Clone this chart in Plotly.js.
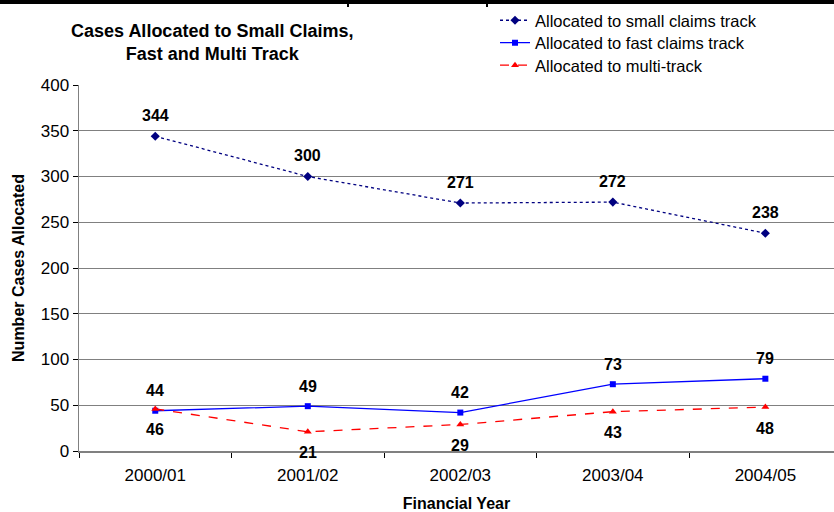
<!DOCTYPE html>
<html>
<head>
<meta charset="utf-8">
<script src="https://cdn.plot.ly/plotly-3.0.1.min.js"></script>
<style>
html,body{margin:0;padding:0;background:#fff;}
#wrap{position:relative;width:834px;height:512px;}
#chart{width:834px;height:512px;}
#topbar{position:absolute;left:0;top:0;width:834px;height:4px;background:#000;}
.nub{position:absolute;top:4px;width:2px;height:3px;background:#000;}
</style>
</head>
<body>
<div id="wrap">
<div id="chart"></div>
<div id="topbar"></div>
<div class="nub" style="left:347px"></div>
<div class="nub" style="left:486px"></div>
</div>
<script>
const categories = ["2000/01", "2001/02", "2002/03", "2003/04", "2004/05"];
const smallClaims = [344, 300, 271, 272, 238];
const fastTrack = [44, 49, 42, 73, 79];
const multiTrack = [46, 21, 29, 43, 48];
const seriesNames = ["Allocated to small claims track", "Allocated to fast claims track", "Allocated to multi-track"];
const yTicks = [0, 50, 100, 150, 200, 250, 300, 350, 400];

const FONT = "'Liberation Sans', Arial, sans-serif";

const traces = [
  {x: categories, y: smallClaims, name: seriesNames[0], type: "scatter", mode: "lines+markers", legend: "legend",
   line: {color: "#000080", width: 1.3, dash: "dot"}, marker: {symbol: "diamond", size: 7, color: "#000080"}},
  {x: categories, y: fastTrack, name: seriesNames[1], type: "scatter", mode: "lines+markers", legend: "legend2",
   line: {color: "#0000FF", width: 1.3}, marker: {symbol: "square", size: 6, color: "#0000FF"}},
  {x: categories, y: multiTrack, name: seriesNames[2], type: "scatter", mode: "lines+markers", legend: "legend3",
   line: {color: "#FF0000", width: 1.3, dash: "dash"}, marker: {symbol: "triangle-up", size: 7, color: "#FF0000"}}
];

const annotations = [];
function addLabels(vals, shift) {
  vals.forEach((v, i) => annotations.push({
    x: categories[i], y: v, xref: "x", yref: "y", text: String(v), showarrow: false,
    yshift: shift, font: {family: FONT, size: 16, color: "#000", weight: "bold"}
  }));
}
addLabels(smallClaims, 21);
addLabels(fastTrack, 20);
addLabels(multiTrack, -21);

annotations.push({
  text: "<b>Cases Allocated to Small Claims,<br>Fast and Multi Track</b>",
  xref: "paper", yref: "paper", x: 0.176, y: 1.116, xanchor: "center", yanchor: "middle",
  showarrow: false, align: "center", font: {family: FONT, size: 18, color: "#000"}
});

function legendAt(yPaper) {
  return {x: 0.551, xanchor: "left", y: yPaper, yanchor: "top", font: {family: FONT, size: 16.5, color: "#000"},
          bgcolor: "rgba(0,0,0,0)", itemwidth: 30, tracegroupgap: 0};
}

const layout = {
  width: 834, height: 512,
  margin: {l: 79, r: 0, t: 85, b: 61},
  paper_bgcolor: "#fff", plot_bgcolor: "#fff",
  font: {family: FONT, size: 16, color: "#000"},
  showlegend: true,
  legend: legendAt(1.224),
  legend2: legendAt(1.1626),
  legend3: legendAt(1.1011),
  xaxis: {type: "category", range: [-0.5, 4.45], showgrid: false, showline: true, linecolor: "#808080", linewidth: 1.5,
          ticks: "outside", tickson: "boundaries", ticklen: 5, tickcolor: "#000", ticklabelstandoff: 8,
          tickfont: {family: FONT, size: 17, color: "#000"}, zeroline: false,
          title: {text: "<b>Financial Year</b>", font: {family: FONT, size: 16, color: "#000"}, standoff: 18}},
  yaxis: {range: [0, 400], tickvals: yTicks, showgrid: true, gridcolor: "#808080", gridwidth: 1,
          showline: true, linecolor: "#808080", linewidth: 1.5, ticks: "outside", ticklen: 5, tickcolor: "#000",
          tickfont: {family: FONT, size: 17, color: "#000"}, zeroline: false,
          title: {text: "<b>Number Cases Allocated</b>", font: {family: FONT, size: 16, color: "#000"}, standoff: 12}},
  annotations: annotations
};

Plotly.newPlot("chart", traces, layout, {displayModeBar: false, staticPlot: true});
</script>
</body>
</html>
